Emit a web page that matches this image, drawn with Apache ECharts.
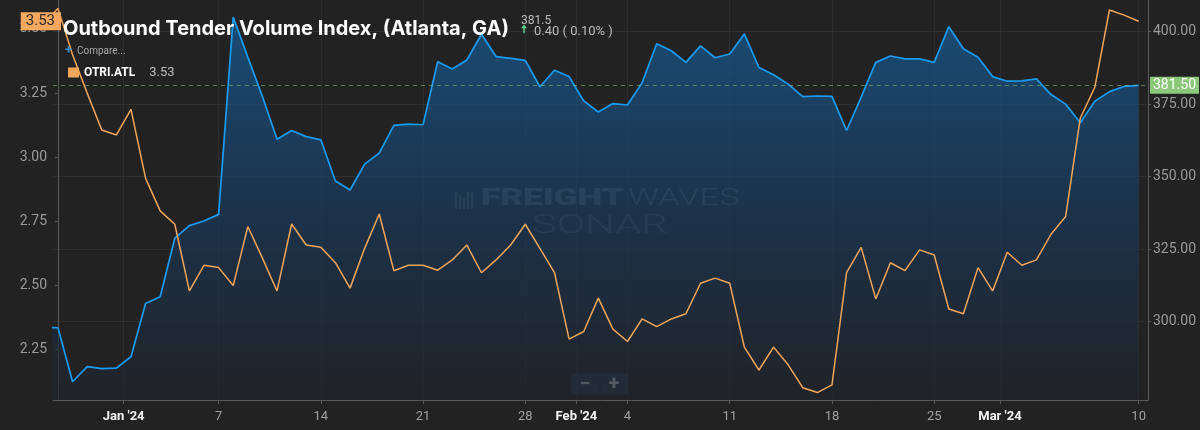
<!DOCTYPE html>
<html>
<head>
<meta charset="utf-8">
<script src="https://cdn.jsdelivr.net/npm/echarts@6/dist/echarts.min.js"></script>
<style>
html,body{margin:0;padding:0;background:#222222;}
#chart{width:1200px;height:430px;}
</style>
</head>
<body>
<div id="chart"></div>
<script>
// Day offsets: 0 = 27 Dec 2023 ... 74 = 10 Mar 2024 (first value, -1 = 26 Dec, sits at the clipped left edge)
const startDay = -1;
const otvi = [298.0, 297.9, 279.3, 284.5, 283.8, 284.0, 287.9, 306.3, 308.6, 328.8, 333.1, 334.7, 337.0,
  405.0, 391.2, 377.6, 362.9, 365.9, 363.8, 362.7, 348.5, 345.4, 354.3, 358.1, 367.7, 368.1, 367.9,
  389.6, 387.1, 390.2, 399.1, 391.4, 390.8, 390.1, 381.0, 386.7, 384.5, 376.1, 372.3, 375.2, 374.7,
  382.4, 395.8, 393.4, 389.4, 395.1, 391.0, 392.3, 399.2, 387.6, 385.1, 381.9, 377.6, 377.8, 377.7,
  365.9, 377.4, 389.4, 391.6, 390.6, 390.6, 389.4, 401.7, 394.1, 391.2, 384.5, 382.9, 383.0, 383.7,
  378.3, 375.0, 368.6, 376.0, 379.3, 381.1, 381.5];
const otri = [3.52, 3.58, 3.40, 3.25, 3.106, 3.087, 3.187, 2.918, 2.791, 2.739, 2.479, 2.579, 2.570,
  2.500, 2.730, 2.607, 2.479, 2.740, 2.658, 2.649, 2.589, 2.490, 2.645, 2.779, 2.558, 2.579, 2.579,
  2.560, 2.600, 2.658, 2.550, 2.600, 2.658, 2.739, 2.645, 2.550, 2.291, 2.321, 2.451, 2.330, 2.282,
  2.370, 2.340, 2.370, 2.390, 2.509, 2.529, 2.509, 2.260, 2.171, 2.260, 2.191, 2.102, 2.083, 2.113,
  2.550, 2.649, 2.448, 2.589, 2.558, 2.639, 2.619, 2.409, 2.390, 2.570, 2.479, 2.630, 2.579, 2.600,
  2.700, 2.769, 3.152, 3.273, 3.574, 3.554, 3.53];
const tickDays = [4.5, 11, 18, 25, 32, 35.5, 39, 46, 53, 60, 64.5, 74];
const tickLabels = ["Jan '24", "7", "14", "21", "28", "Feb '24", "4", "11", "18", "25", "Mar '24", "10"];
const leftTicks = [2.25, 2.50, 2.75, 3.00, 3.25, 3.50];
const rightTicks = [300, 325, 350, 375, 400];
const lastOtvi = 381.5;
const lastOtri = 3.53;
const changeText = "0.40 ( 0.10% )";

const otviData = otvi.map((v, i) => [startDay + i, v]);
const otriData = otri.map((v, i) => [startDay + i, v]);

const chart = echarts.init(document.getElementById('chart'));
const FONT = 'Roboto, "Noto Sans", sans-serif';
const TFONT = 'Inter, Roboto, sans-serif';

chart.setOption({
  backgroundColor: '#222222',
  animation: false,
  textStyle: { fontFamily: FONT },
  title: {
    text: 'Outbound Tender Volume Index, (Atlanta, GA)',
    left: 63, top: 19, padding: 0,
    textStyle: { color: '#ffffff', fontSize: 20, fontWeight: 'bold', fontFamily: TFONT }
  },
  legend: {
    left: 68, top: 66, padding: 0,
    itemWidth: 11, itemHeight: 10, itemGap: 5,
    icon: 'rect',
    data: ['OTRI.ATL'],
    formatter: (n) => '{n|' + n + '}{v|' + lastOtri.toFixed(2) + '}',
    textStyle: {
      rich: {
        n: { color: '#ffffff', fontSize: 12, fontWeight: 'bold', fontFamily: FONT },
        v: { color: '#bbbbbb', fontSize: 13, padding: [0, 0, 0, 14], fontFamily: FONT }
      }
    }
  },
  grid: { left: 53, right: 52, top: 0, bottom: 30, containLabel: false },
  xAxis: {
    type: 'value',
    min: -0.34, max: 74.64,
    axisLine: { show: true, lineStyle: { color: '#5a5a5a' } },
    axisTick: { show: true, length: 4, customValues: tickDays, lineStyle: { color: '#5a5a5a' } },
    splitLine: { show: true, lineStyle: { color: 'rgba(255,255,255,0.05)' } },
    axisLabel: {
      customValues: tickDays,
      margin: 10,
      formatter: (v) => {
        const k = tickDays.indexOf(v);
        const s = k >= 0 ? tickLabels[k] : '';
        return s.indexOf("'") >= 0 ? '{m|' + s + '}' : '{d|' + s + '}';
      },
      rich: {
        m: { color: '#f4f4f4', fontSize: 13, fontWeight: 'bold', fontFamily: FONT },
        d: { color: '#a0a0a0', fontSize: 13, fontFamily: FONT }
      }
    }
  },
  yAxis: [
    {
      type: 'value', position: 'left',
      min: 2.054, max: 3.613,
      axisLine: { show: true, lineStyle: { color: '#5a5a5a' } },
      axisTick: { show: true, length: 3, customValues: leftTicks, lineStyle: { color: '#5a5a5a' } },
      splitLine: { show: false },
      axisLabel: { customValues: leftTicks, color: '#9a9a9a', fontSize: 14, margin: 6, formatter: (v) => v.toFixed(2) }
    },
    {
      type: 'value', position: 'right',
      min: 273.0, max: 410.9,
      axisLine: { show: true, lineStyle: { color: '#5a5a5a' } },
      axisTick: { show: true, length: 3, customValues: rightTicks, lineStyle: { color: '#5a5a5a' } },
      splitLine: { show: true, lineStyle: { color: 'rgba(255,255,255,0.06)' } },
      axisLabel: { customValues: rightTicks, color: '#9a9a9a', fontSize: 14, margin: 5, formatter: (v) => v.toFixed(2) }
    }
  ],
  series: [
    {
      name: 'OTVI.ATL', type: 'line', yAxisIndex: 1,
      data: otviData, symbol: 'none', clip: true,
      lineStyle: { color: '#1a9bf2', width: 1.7 },
      areaStyle: {
        origin: 'start',
        color: new echarts.graphic.LinearGradient(0, 0, 0, 1, [
          { offset: 0, color: '#165d98' },
          { offset: 0.5, color: '#193a5c' },
          { offset: 1, color: '#20232a' }
        ])
      },
      markLine: {
        silent: true, symbol: 'none', animation: false,
        lineStyle: { type: [4, 4], color: 'rgba(130,190,110,0.6)', width: 1 },
        label: {
          show: true, position: 'end', distance: 2,
          formatter: () => lastOtvi.toFixed(2),
          backgroundColor: '#8cc87a', color: '#ffffff', fontSize: 14,
          padding: [2, 3, 1, 3], fontFamily: FONT
        },
        data: [{ yAxis: lastOtvi }]
      },
      z: 2
    },
    {
      name: 'OTRI.ATL', type: 'line', yAxisIndex: 0,
      data: otriData, symbol: 'none', clip: true,
      itemStyle: { color: '#f2a65a' },
      lineStyle: { color: '#f2a65a', width: 1.5 },
      markLine: {
        silent: true, symbol: 'none', animation: false,
        lineStyle: { color: 'rgba(0,0,0,0)', width: 1 },
        label: {
          show: true, position: 'start', distance: -8,
          formatter: () => lastOtri.toFixed(2),
          backgroundColor: '#f5a85e', color: '#2a2a2a', fontSize: 15,
          padding: [2, 6, 1, 5], fontFamily: FONT
        },
        data: [{ yAxis: lastOtri }]
      },
      z: 3
    }
  ],
  graphic: [
    { type: 'text', left: 521, top: 15, z: 10, style: { text: lastOtvi.toFixed(1), fill: '#bbbbbb', font: '12px ' + FONT } },
    { type: 'text', left: 521, top: 25, z: 10, style: { text: '🠅', fill: '#5fd08a', font: 'bold 11px "DejaVu Sans"' } },
    { type: 'text', left: 534, top: 25, z: 10, style: { text: changeText, fill: '#bbbbbb', font: '13px ' + FONT } },
    { type: 'text', left: 65, top: 44, z: 10, style: { text: '+', fill: '#3a8fd8', font: 'bold 13px ' + FONT } },
    { type: 'text', left: 77, top: 46, z: 10, style: { text: 'Compare...', fill: '#aaaaaa', font: '10px ' + FONT } },
    // watermark
    { type: 'group', left: 455, top: 192, z: 1, silent: true, children: [
      { type: 'rect', shape: { x: 0, y: 0, width: 2, height: 17 }, style: { fill: 'rgba(255,255,255,0.18)' } },
      { type: 'rect', shape: { x: 4, y: 3, width: 2, height: 14 }, style: { fill: 'rgba(255,255,255,0.18)' } },
      { type: 'rect', shape: { x: 8, y: 6, width: 2, height: 11 }, style: { fill: 'rgba(255,255,255,0.18)' } },
      { type: 'rect', shape: { x: 12, y: 0, width: 2, height: 17 }, style: { fill: 'rgba(255,255,255,0.18)' } },
      { type: 'rect', shape: { x: 16, y: 0, width: 2, height: 17 }, style: { fill: 'rgba(255,255,255,0.18)' } }
    ] },
    { type: 'text', left: 481, top: 188, z: 1, silent: true, scaleX: 1.53, style: { text: 'FREIGHT', fill: 'rgba(255,255,255,0.2)', font: '900 23px ' + FONT } },
    { type: 'text', left: 628, top: 188, z: 1, silent: true, scaleX: 1.5, style: { text: 'WAVES', fill: 'rgba(255,255,255,0.2)', font: '300 23px ' + FONT } },
    { type: 'text', left: 532, top: 214, z: 1, silent: true, scaleX: 1.67, style: { text: 'SONAR', fill: 'rgba(255,255,255,0.17)', font: '300 25px ' + FONT } },
    // zoom buttons
    { type: 'group', left: 571, top: 371, z: 10, children: [
      { type: 'rect', shape: { x: 0, y: 0, width: 57, height: 21, r: 2 }, style: { fill: '#283a4b' } },
      { type: 'line', shape: { x1: 29, y1: 0, x2: 29, y2: 21 }, style: { stroke: '#1c2a36', lineWidth: 1 } },
      { type: 'text', x: 14, y: 11, style: { text: '−', fill: '#d0d6dc', font: 'bold 20px ' + FONT, align: 'center', verticalAlign: 'middle' } },
      { type: 'text', x: 43, y: 11, style: { text: '+', fill: '#d0d6dc', font: 'bold 20px ' + FONT, align: 'center', verticalAlign: 'middle' } }
    ] }
  ]
});
</script>
</body>
</html>
